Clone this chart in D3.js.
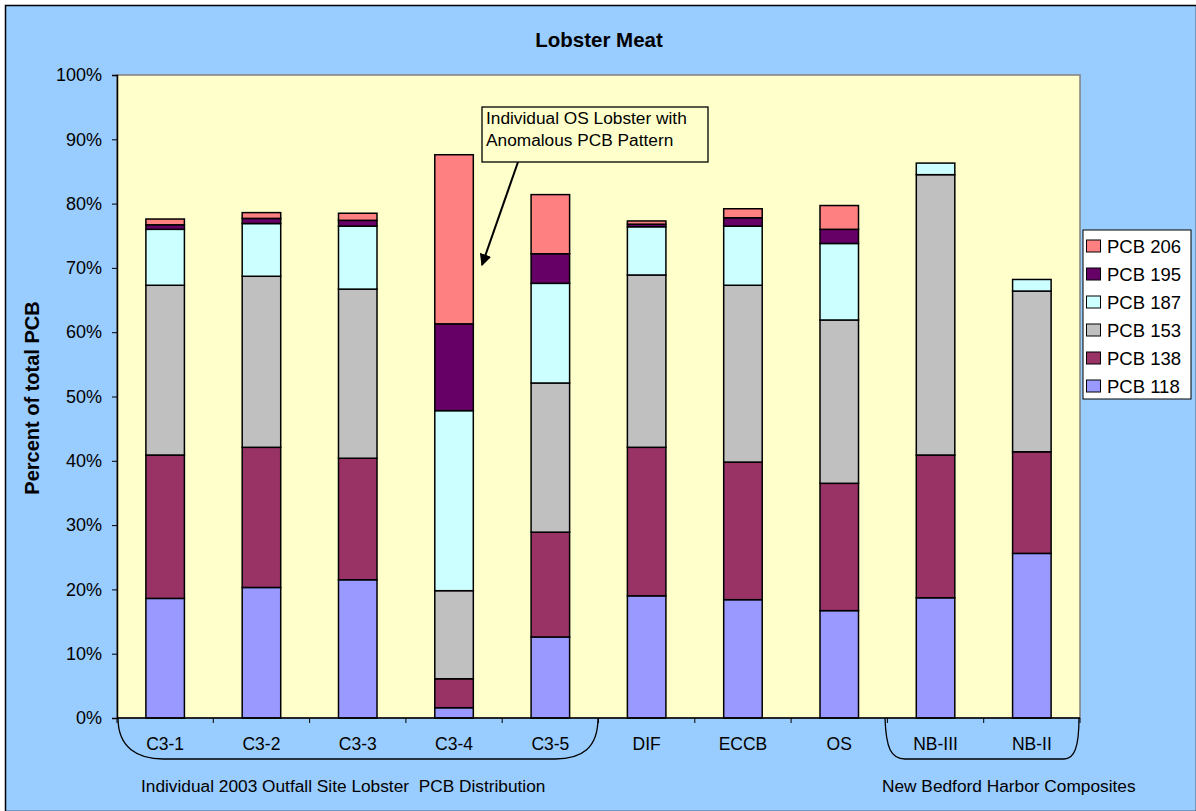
<!doctype html>
<html>
<head>
<meta charset="utf-8">
<style>
body { margin:0; background:#fff; font-family:"Liberation Sans", Arial, sans-serif; }
</style>
<script src="https://cdnjs.cloudflare.com/ajax/libs/d3/7.8.5/d3.min.js"></script>
</head>
<body>
<div id="chart"></div>
<script>
var categories = ["C3-1","C3-2","C3-3","C3-4","C3-5","DIF","ECCB","OS","NB-III","NB-II"];
var seriesNames = ["PCB 118","PCB 138","PCB 153","PCB 187","PCB 195","PCB 206"];
var seriesColors = ["#9999FF","#993366","#C0C0C0","#CCFFFF","#660066","#FF8080"];
// percent of total PCB, one array per congener
var pcb118 = [18.6, 20.3, 21.5, 1.6, 12.6, 19.0, 18.4, 16.7, 18.7, 25.6];
var pcb138 = [22.3, 21.8, 18.9, 4.5, 16.3, 23.1, 21.4, 19.8, 22.2, 15.8];
var pcb153 = [26.4, 26.6, 26.3, 13.7, 23.2, 26.8, 27.5, 25.4, 43.6, 25.0];
var pcb187 = [8.7, 8.2, 9.8, 28.0, 15.5, 7.5, 9.2, 11.9, 1.8, 1.8];
var pcb195 = [0.7, 0.8, 0.9, 13.5, 4.6, 0.4, 1.3, 2.2, 0, 0];
var pcb206 = [0.9, 0.9, 1.1, 26.3, 9.2, 0.5, 1.4, 3.7, 0, 0];
var yTicks = [0,10,20,30,40,50,60,70,80,90,100];

var series = [pcb118, pcb138, pcb153, pcb187, pcb195, pcb206];
var rows = categories.map(function(c, i) {
  var r = {cat: c};
  seriesNames.forEach(function(s, j) { r[s] = series[j][i]; });
  return r;
});

var width = 1196, height = 811;
var plot = {left:117, top:75, right:1080, bottom:718};

var svg = d3.select("#chart").append("svg")
  .attr("width", width).attr("height", height);

svg.append("rect").attr("x",5.5).attr("y",5.5).attr("width",width-5).attr("height",height-5)
  .attr("fill","#99CCFF").attr("stroke","#000").attr("stroke-width",1.5);

svg.append("rect").attr("x",plot.left).attr("y",plot.top)
  .attr("width",plot.right-plot.left).attr("height",plot.bottom-plot.top)
  .attr("fill","#FFFFCC").attr("stroke","#808080").attr("stroke-width",1.5);

var x = d3.scaleBand().domain(categories).range([plot.left, plot.right]).paddingInner(0.6).paddingOuter(0.3);
var xb = d3.scaleBand().domain(categories).range([plot.left, plot.right]);
var y = d3.scaleLinear().domain([0,100]).range([plot.bottom, plot.top]);

var stack = d3.stack().keys(seriesNames)(rows);

svg.append("g").selectAll("g").data(stack).enter().append("g")
  .attr("fill", function(d, i) { return seriesColors[i]; })
  .selectAll("rect").data(function(d) { return d; }).enter()
  .filter(function(d) { return d[1] - d[0] > 0; })
  .append("rect")
  .attr("x", function(d) { return x(d.data.cat); })
  .attr("width", x.bandwidth())
  .attr("y", function(d) { return y(d[1]); })
  .attr("height", function(d) { return y(d[0]) - y(d[1]); })
  .attr("stroke","#000").attr("stroke-width",1.5);

// y axis
var yAxis = svg.append("g").attr("transform","translate(" + plot.left + ",0)")
  .call(d3.axisLeft(y).tickValues(yTicks).tickSize(5).tickPadding(10)
    .tickFormat(function(d) { return d + "%"; }));
yAxis.select(".domain").attr("stroke","#000").attr("stroke-width",1.5);
yAxis.selectAll("text").attr("font-size",18).attr("fill","#000")
  .attr("font-family","'Liberation Sans', Arial, sans-serif");

// x axis
var xAxis = svg.append("g").attr("transform","translate(0," + plot.bottom + ")");
xAxis.append("line").attr("x1",plot.left).attr("x2",plot.right)
  .attr("stroke","#000").attr("stroke-width",1.5);
xAxis.selectAll("line.tk").data(categories.concat(["end"])).enter().append("line")
  .attr("class","tk")
  .attr("x1", function(d, i) { return plot.left + i * xb.bandwidth(); })
  .attr("x2", function(d, i) { return plot.left + i * xb.bandwidth(); })
  .attr("y1",0).attr("y2",5).attr("stroke","#000");
xAxis.selectAll("text").data(categories).enter().append("text")
  .attr("x", function(d) { return xb(d) + xb.bandwidth()/2; })
  .attr("y", 32).attr("text-anchor","middle").attr("font-size",17.5)
  .text(function(d) { return d; });

// group brackets
svg.append("path")
  .attr("d","M118,718 C118,748 138,759 163,759 L555,759 C582,759 598,748 598,718")
  .attr("fill","none").attr("stroke","#000").attr("stroke-width",1.3);
svg.append("path")
  .attr("d","M885,718 C886,748 891,759 905,759 L1064,759 C1074,759 1079,748 1079,718")
  .attr("fill","none").attr("stroke","#000").attr("stroke-width",1.3);

svg.append("text").attr("x",141).attr("y",792).attr("font-size",17.3)
  .text("Individual 2003 Outfall Site Lobster\u00a0 PCB Distribution");
svg.append("text").attr("x",882).attr("y",792).attr("font-size",17.3)
  .text("New Bedford Harbor Composites");

// title and y label
svg.append("text").attr("x",599).attr("y",47).attr("text-anchor","middle")
  .attr("font-size",20.5).attr("font-weight","bold").text("Lobster Meat");
svg.append("text").attr("transform","translate(39,398) rotate(-90)")
  .attr("text-anchor","middle").attr("font-size",20).attr("font-weight","bold")
  .text("Percent of total PCB");

// annotation
svg.append("rect").attr("x",482).attr("y",107).attr("width",226).attr("height",55)
  .attr("fill","#FFFFCC").attr("stroke","#000").attr("stroke-width",1.3);
svg.append("text").attr("x",486).attr("y",124).attr("font-size",17.3).text("Individual OS Lobster with");
svg.append("text").attr("x",486).attr("y",146).attr("font-size",17.3).text("Anomalous PCB Pattern");
svg.append("defs").append("marker").attr("id","arr").attr("viewBox","0 0 10 10")
  .attr("refX",9).attr("refY",5).attr("markerWidth",6).attr("markerHeight",6)
  .attr("orient","auto").append("path").attr("d","M0,0 L10,5 L0,10 z").attr("fill","#000");
svg.append("line").attr("x1",518).attr("y1",162).attr("x2",482).attr("y2",265)
  .attr("stroke","#000").attr("stroke-width",2).attr("marker-end","url(#arr)");

// legend
var lg = svg.append("g");
lg.append("rect").attr("x",1083).attr("y",230).attr("width",108).attr("height",169)
  .attr("fill","#fff").attr("stroke","#000");
var items = seriesNames.slice().reverse();
lg.selectAll("g.it").data(items).enter().append("g").attr("class","it")
  .attr("transform", function(d, i) { return "translate(1086," + (246 + i*28) + ")"; })
  .each(function(d) {
    var g = d3.select(this);
    g.append("rect").attr("x",0.5).attr("y",-6).attr("width",14).attr("height",12)
      .attr("fill", seriesColors[seriesNames.indexOf(d)]).attr("stroke","#000");
    g.append("text").attr("x",21).attr("y",6.5).attr("font-size",18.5).text(d);
  });
</script>
</body>
</html>
